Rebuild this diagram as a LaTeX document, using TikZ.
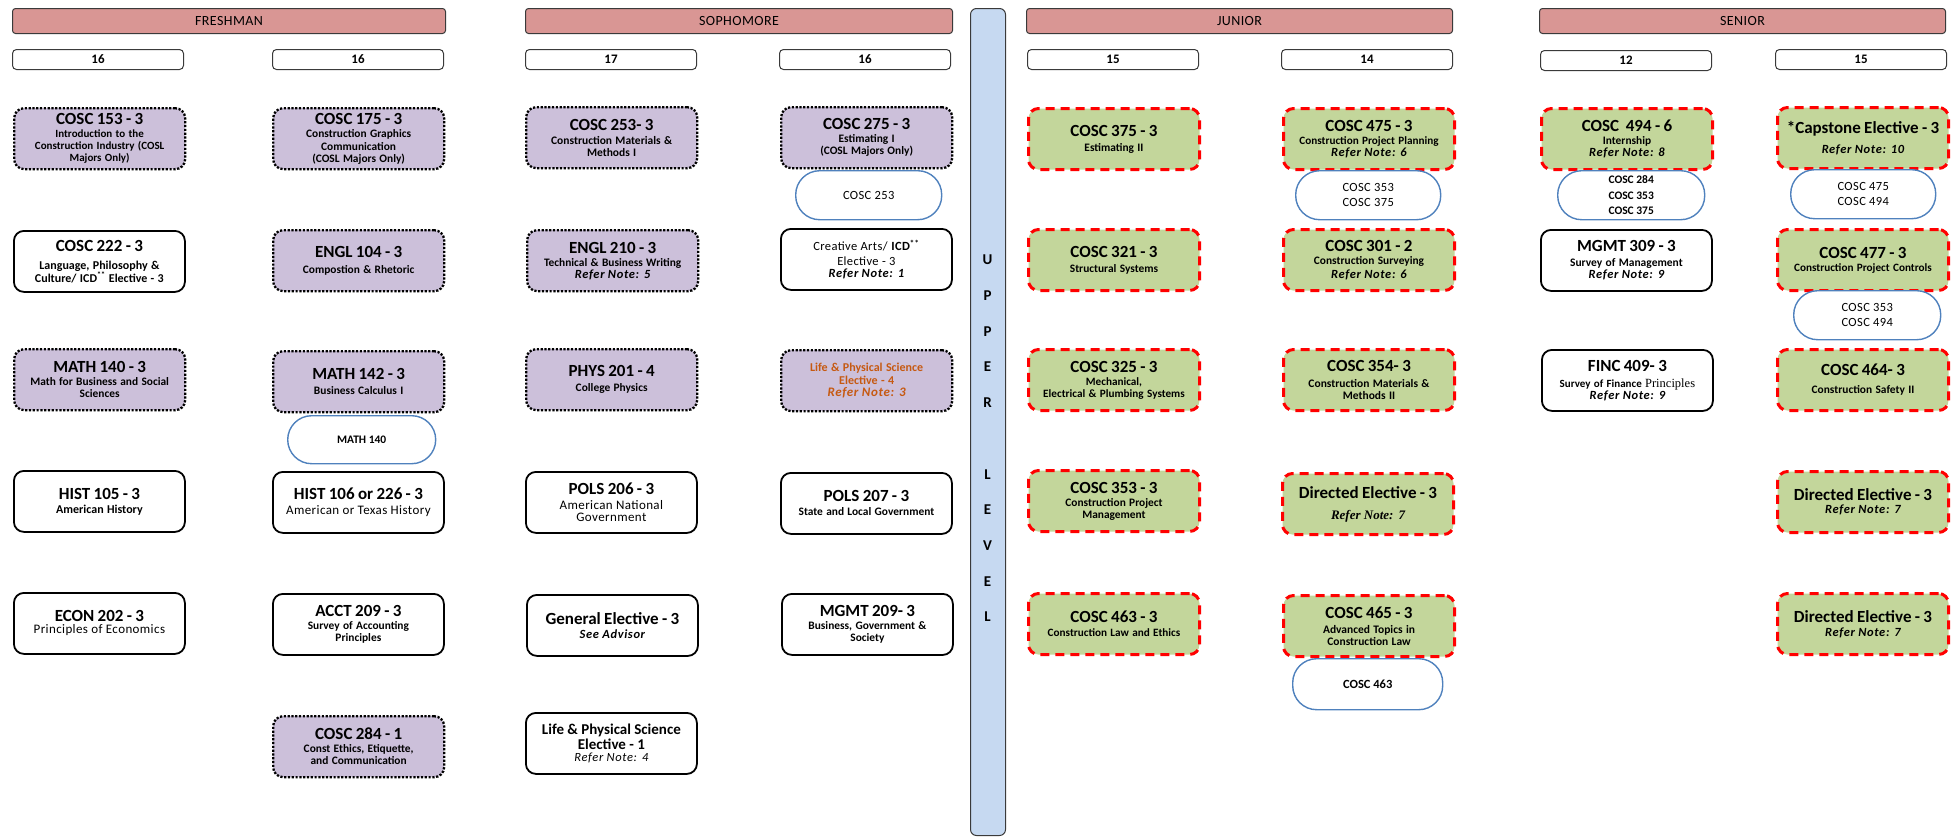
\documentclass[tikz,border=0pt]{standalone}
\usepackage{fontspec}
\setmainfont{Carlito}
\newfontfamily\notefont[LetterSpace=5]{Carlito}
\newfontfamily\regfont[LetterSpace=3]{Carlito}
\newfontfamily\serfont{Liberation Serif}
\definecolor{hdrc}{HTML}{D99694}
\definecolor{lavc}{HTML}{CCC0DA}
\definecolor{grnc}{HTML}{C3D69B}
\definecolor{redc}{HTML}{FF0000}
\definecolor{ovalc}{HTML}{4F81BD}
\definecolor{barc}{HTML}{C6D9F1}
\definecolor{orgc}{HTML}{C65911}
\definecolor{edgec}{HTML}{3A3A3A}
\newcommand\cTitle{\fontsize{17}{18}\selectfont\bfseries}
\newcommand\cSub{\fontsize{11.4}{13}\selectfont\bfseries}
\newcommand\cReg{\regfont\fontsize{13}{15}\selectfont\mdseries}
\newcommand\cNote{\notefont\fontsize{12.5}{15}\selectfont\bfseries\itshape}
\begin{document}
\begin{tikzpicture}[x=1pt,y=-1pt,
  box/.style={rounded corners=10pt, text width=169pt, minimum height=61pt,
    inner sep=1pt, align=center, anchor=north west},
  lav/.style={box, fill=lavc, draw=black, line width=2.3pt, dash pattern=on 2.2pt off 1.6pt},
  wht/.style={box, fill=white, draw=black, line width=1.8pt},
  grn/.style={box, fill=grnc, draw=redc, line width=3pt, dash pattern=on 9pt off 6pt},
  oval/.style={rounded corners=24pt, minimum width=147pt, minimum height=49pt,
    draw=ovalc, line width=1.4pt, fill=white, align=center, anchor=north west, inner sep=1pt,
    font=\regfont\fontsize{12.5}{14.5}\selectfont},
  ovalb/.style={oval, font=\fontsize{11.5}{15.5}\selectfont\bfseries},
  hdr/.style={rounded corners=3pt, fill=hdrc, draw=edgec, line width=1pt, minimum height=25pt,
    anchor=north west, inner sep=0pt, font=\regfont\fontsize{14}{16}\selectfont},
  cred/.style={rounded corners=4pt, fill=white, draw=edgec, line width=1pt, minimum width=171pt,
    minimum height=20pt, anchor=north west, inner sep=0pt, font=\fontsize{13}{15}\selectfont\bfseries},
  upbar/.style={rounded corners=6pt, fill=barc, draw=edgec, line width=1pt, anchor=north west, inner sep=0pt}
]
\useasboundingbox (0,0) rectangle (1953,836);

% headers
\node[hdr, minimum width=433pt] (hfr) at (12,8) {FRESHMAN};
\node[hdr, minimum width=427pt] (hso) at (525,8) {SOPHOMORE};
\node[hdr, minimum width=426pt] (hju) at (1026,8) {JUNIOR};
\node[hdr, minimum width=406pt] (hse) at (1539,8) {SENIOR};

% credits
\node[cred] (k1) at (12,49) {16};
\node[cred] (k2) at (272,49) {16};
\node[cred] (k3) at (525,49) {17};
\node[cred] (k4) at (779,49) {16};
\node[cred] (k5) at (1027,49) {15};
\node[cred] (k6) at (1281,49) {14};
\node[cred] (k7) at (1540,50) {12};
\node[cred] (k8) at (1775,49) {15};

% upper level bar
\node[upbar, minimum width=35pt, minimum height=827pt] (ubar) at (970,8) {};
\node[text width=20pt, align=center, inner sep=0pt, font=\fontsize{15}{35.7}\selectfont\bfseries] (ulv) at (987.5,438.5)
  {U\\P\\P\\E\\R\\[35.7pt]L\\E\\V\\E\\L};

% ---------- FRESHMAN col 1
\node[lav] (c153) at (13,107) {\cTitle COSC 153 - 3\\\cSub\fontsize{11}{12.5}\selectfont Introduction to the\\Construction Industry (COSL\\Majors Only)};
\node[wht] (c222) at (13,230) {\cTitle COSC 222 - 3\\[2pt]\fontsize{12}{16}\selectfont\bfseries Language, Philosophy \&\\Culture/ ICD\textsuperscript{**} Elective - 3};
\node[lav] (m140) at (13,348) {\cTitle MATH 140 - 3\\\cSub Math for Business and Social\\Sciences};
\node[wht] (h105) at (13,470) {\cTitle HIST 105 - 3\\[2pt]\cSub\fontsize{12}{14}\selectfont American History};
\node[wht] (e202) at (13,592) {\cTitle ECON 202 - 3\\\cReg Principles of Economics};

% ---------- FRESHMAN col 2
\node[lav] (c175) at (272,107) {\cTitle COSC 175 - 3\\\cSub Construction Graphics\\Communication\\(COSL Majors Only)};
\node[lav] (e104) at (272,229) {\cTitle ENGL 104 - 3\\[4pt]\cSub Compostion \& Rhetoric};
\node[lav] (m142) at (272,350) {\cTitle MATH 142 - 3\\[3pt]\cSub Business Calculus I};
\node[ovalb, minimum width=148pt, minimum height=48pt] (p140) at (287,415) {MATH 140};
\node[wht] (h106) at (272,471) {\cTitle HIST 106 or 226 - 3\\[3pt]\cReg American or Texas History};
\node[wht] (a209) at (272,593) {\cTitle ACCT 209 - 3\\\cSub Survey of Accounting\\Principles};
\node[lav] (c284) at (272,715) {\cTitle COSC 284 - 1\\\cSub Const Ethics, Etiquette,\\and Communication};

% ---------- SOPHOMORE col 3
\node[lav] (c253) at (525,106) {\cTitle COSC 253- 3\\\cSub\fontsize{11.5}{14}\selectfont Construction Materials \&\\Methods I};
\node[lav] (e210) at (526,229) {\cTitle ENGL 210 - 3\\\cSub Technical \& Business Writing\\\cNote Refer Note: 5};
\node[lav] (p201) at (525,348) {\cTitle PHYS 201 - 4\\[3pt]\cSub College Physics};
\node[wht] (p206) at (525,471) {\cTitle POLS 206 - 3\\\cReg American National\\Government};
\node[wht] (gel) at (526,594) {\cTitle General Elective - 3\\[2pt]\cNote\mdseries\bfseries See Advisor};
\node[wht] (lps1) at (525,712) {\fontsize{15}{15}\selectfont\bfseries Life \& Physical Science\\Elective - 1\\\cNote\mdseries Refer Note: 4};

% ---------- SOPHOMORE col 4
\node[lav] (c275) at (780,106) {\cTitle COSC 275 - 3\\\cSub Estimating I\\(COSL Majors Only)};
\node[oval, minimum width=146pt] (p253) at (795,170) {COSC 253};
\node[wht] (cre) at (780,228) {\cReg\fontsize{12.5}{14.5}\selectfont Creative Arts/ \textbf{ICD\textsuperscript{**}}\\Elective - 3\\\cNote Refer Note: 1};
\node[lav, text=orgc] (lps4) at (780,349) {\cSub\fontsize{12}{13.5}\selectfont Life \& Physical Science\\Elective - 4\\\cNote\fontsize{13}{15}\selectfont Refer Note: 3};
\node[wht] (p207) at (780,472) {\cTitle POLS 207 - 3\\[2pt]\cSub State and Local Government};
\node[wht] (m209) at (781,593) {\cTitle MGMT 209- 3\\\cSub Business, Government \&\\Society};

% ---------- JUNIOR col 5
\node[grn] (c375) at (1027,107) {\cTitle COSC 375 - 3\\[3pt]\cSub Estimating II};
\node[grn] (c321) at (1027,228) {\cTitle COSC 321 - 3\\[3pt]\cSub Structural Systems};
\node[grn] (c325) at (1027,348) {\cTitle COSC 325 - 3\\\cSub\fontsize{11.2}{13}\selectfont Mechanical,\\Electrical \& Plumbing Systems};
\node[grn] (c353) at (1027,469) {\cTitle COSC 353 - 3\\\cSub Construction Project\\Management};
\node[grn] (c463) at (1027,592) {\cTitle COSC 463 - 3\\[2pt]\cSub\fontsize{11.2}{13}\selectfont Construction Law and Ethics};

% ---------- JUNIOR col 6
\node[grn] (c475) at (1282,107) {\cTitle COSC 475 - 3\\\cSub\fontsize{11.2}{13}\selectfont Construction Project Planning\\\cNote Refer Note: 6};
\node[oval, minimum width=145pt] (p475) at (1295,170) {COSC 353\\COSC 375};
\node[grn] (c301) at (1282,228) {\cTitle COSC 301 - 2\\\cSub Construction Surveying\\[2pt]\cNote Refer Note: 6};
\node[grn] (c354) at (1282,348) {\cTitle COSC 354- 3\\[2pt]\cSub\fontsize{11.5}{14}\selectfont Construction Materials \&\\Methods II};
\node[grn] (de1) at (1281,472) {\cTitle Directed Elective - 3\\[9pt]\serfont\fontsize{13}{15}\selectfont\itshape Refer Note: 7};
\node[grn] (c465) at (1282,594) {\cTitle COSC 465 - 3\\\cSub\fontsize{11.5}{15}\selectfont Advanced Topics in\\Construction Law};
\node[ovalb, minimum width=150pt, minimum height=51pt, font=\fontsize{12.5}{14}\selectfont\bfseries] (p465) at (1292,658) {COSC 463};

% ---------- SENIOR col 7
\node[grn] (c494) at (1540,107) {\cTitle COSC\ \ 494 - 6\\\cSub Internship\\\cNote Refer Note: 8};
\node[ovalb, minimum width=147pt] (p494) at (1557,170) {COSC 284\\COSC 353\\COSC 375};
\node[wht] (m309) at (1540,229) {\cTitle MGMT 309 - 3\\\cSub\fontsize{11.5}{15}\selectfont Survey of Management\\\cNote Refer Note: 9};
\node[wht] (f409) at (1541,349) {\cTitle FINC 409- 3\\\cSub\fontsize{11}{16}\selectfont Survey of Finance {\serfont\mdseries\fontsize{12.5}{16}\selectfont Principles}\\\cNote Refer Note: 9};

% ---------- SENIOR col 8
\node[grn] (cap) at (1776,106) {\cTitle *Capstone Elective - 3\\[8pt]\cNote Refer Note: 10};
\node[oval, minimum width=145pt] (p477a) at (1790,169) {COSC 475\\COSC 494};
\node[grn] (c477) at (1776,228) {\cTitle COSC 477 - 3\\\cSub\fontsize{11.2}{13}\selectfont Construction Project Controls\\[8pt]};
\node[oval, minimum width=147pt] (p477b) at (1793,290) {COSC 353\\COSC 494};
\node[grn] (c464) at (1776,348) {\cTitle COSC 464- 3\\[6pt]\cSub Construction Safety II};
\node[grn] (de2) at (1776,470) {\cTitle Directed Elective - 3\\[1pt]\cNote Refer Note: 7};
\node[grn] (de3) at (1776,592) {\cTitle Directed Elective - 3\\[2pt]\cNote Refer Note: 7};

\end{tikzpicture}
\end{document}
